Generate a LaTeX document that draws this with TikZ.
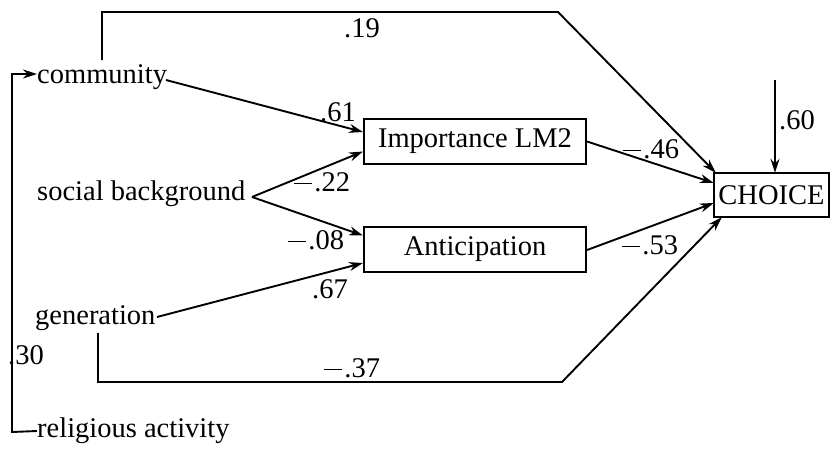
\documentclass[tikz,border=0pt]{standalone}
\usepackage{fontspec}
\setmainfont{Liberation Serif}
\usetikzlibrary{arrows.meta,calc}
\newcommand{\negsign}{\rule[0.24em]{0.62em}{1.3pt}\hspace{0.1em}}
\begin{document}
\begin{tikzpicture}[x=1pt,y=-1pt,
  every node/.style={font=\fontsize{28.5}{30}\selectfont},
  var/.style={inner sep=0pt,anchor=west},
  boxn/.style={draw,line width=2pt,minimum width=222pt,minimum height=45pt,inner sep=0pt},
  coef/.style={inner sep=0pt},
  lin/.style={line width=1.9pt},
  arr/.style={lin,-{Stealth[length=14pt,width=9pt]}}]
\useasboundingbox (0,0) rectangle (830,455);
% variables
\node[var] (comm) at (37,77) {community};
\node[var] (soc) at (37,194) {social background};
\node[var] (gen) at (35,318) {generation};
\node[var] (rel) at (37,431) {religious activity};
\node[boxn] (imp) at (475,141.5) {Importance LM2};
\node[boxn] (ant) at (475,249.5) {Anticipation};
\draw[line width=2pt] (714,173) rectangle (829,217);
\node[inner sep=0pt,minimum width=115pt,minimum height=44pt] (choice) at (771.5,195) {CHOICE};
% coordinates
\coordinate (cs) at (102,60);
\coordinate (ct) at (558,12);
\coordinate (gs) at (98,333);
\coordinate (gb) at (562,382);
\coordinate (es) at (775,80);
\coordinate (se) at (252,197);
\coordinate (ce) at (166,80);
\coordinate (ge) at (157,317);
\coordinate (lt) at (12,74);
\coordinate (lb) at (12,432);
% connectors
\draw[arr] (cs) |- (ct) -- ($(choice.north west)+(2,0)$);
\draw[arr] (ce) -- ($(imp.west)+(0,-9.5)$);
\draw[arr] (se) -- ($(imp.west)+(0,10)$);
\draw[arr] (se) -- ($(ant.west)+(0,-14)$);
\draw[arr] (ge) -- ($(ant.west)+(0,13.5)$);
\draw[arr] ($(imp.east)+(0,0)$) -- ($(choice.west)+(0,-12)$);
\draw[arr] ($(ant.east)+(0,0.5)$) -- ($(choice.west)+(0,8)$);
\draw[arr] (gs) |- (gb) -- ($(choice.south west)+(8,0)$);
\draw[arr] (es) -- (choice.north -| es);
\draw[arr] (rel.west) -- (lb) -- (lt) -- ($(comm.west)+(0,-3)$);
% coefficients
\node[coef] (c19) at (362,28) {.19};
\node[coef] (c61) at (338,112) {.61};
\node[coef] (c22) at (322,182) {\negsign.22};
\node[coef] (c08) at (316,240) {\negsign.08};
\node[coef] (c67) at (330,289) {.67};
\node[coef] (c37) at (352,368) {\negsign.37};
\node[coef] (c30) at (26,355) {.30};
\node[coef] (c60) at (797,120) {.60};
\node[coef] (c46) at (651,149) {\negsign.46};
\node[coef] (c53) at (650,245) {\negsign.53};
\end{tikzpicture}
\end{document}
